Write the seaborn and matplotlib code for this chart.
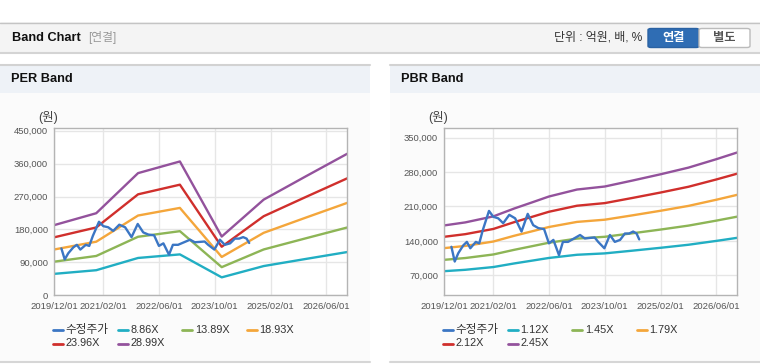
import pandas as pd
import numpy as np
import matplotlib
matplotlib.use("Agg")
import matplotlib.pyplot as plt
from matplotlib.patches import Rectangle, FancyBboxPatch
from matplotlib.lines import Line2D
from matplotlib.ticker import FuncFormatter
import seaborn as sns

# --- data ---
per_knot_dates = ["2019-12-01", "2020-12-01", "2021-12-01", "2022-12-01",
                  "2023-12-01", "2024-12-01", "2025-12-01", "2026-12-01"]
per_eps = [6620, 7740, 11520, 12620, 5540, 9020, 11200, 13350]
per_multiples = [8.86, 13.89, 18.93, 23.96, 28.99]

pbr_knot_dates = ["2019-12-01", "2020-06-01", "2021-02-01", "2021-08-01", "2022-01-01",
                  "2022-06-01", "2023-02-01", "2023-10-01", "2024-06-01", "2025-02-01",
                  "2025-10-01", "2026-06-01", "2026-12-01"]
pbr_bps = [70000, 72500, 77500, 84000, 89000, 94000, 99800, 102300, 107300,
           112500, 118000, 125000, 130600]
pbr_multiples = [1.12, 1.45, 1.79, 2.12, 2.45]

price_dates = ["2020-02-01", "2020-03-01", "2020-04-01", "2020-05-15", "2020-06-15",
               "2020-07-15", "2020-09-01", "2020-10-01", "2020-11-01", "2020-12-25",
               "2021-02-01", "2021-03-15", "2021-04-28", "2021-06-20", "2021-08-10",
               "2021-10-05", "2021-11-28", "2022-01-15", "2022-03-01", "2022-04-20",
               "2022-06-01", "2022-07-10", "2022-08-28", "2022-10-01", "2022-11-15",
               "2022-12-15", "2023-02-28", "2023-04-10", "2023-07-05", "2023-08-05",
               "2023-09-28", "2023-11-15", "2023-12-28", "2024-02-12", "2024-03-25",
               "2024-05-01", "2024-06-05", "2024-07-05", "2024-07-28"]
price_values = [128000, 98000, 115000, 131000, 138000, 125000, 138000, 135000, 162000,
                201000, 189000, 186000, 176000, 193000, 186000, 159000, 195000, 172000,
                166000, 164000, 135000, 142000, 111000, 138000, 138000, 142000, 152000,
                145000, 147000, 138000, 125000, 152000, 138000, 142000, 155000, 155000,
                159000, 155000, 143000]

x_ticks = ["2019-12-01", "2021-02-01", "2022-06-01", "2023-10-01", "2025-02-01", "2026-06-01"]
per_yticks = [0, 90000, 180000, 270000, 360000, 450000]
pbr_yticks = [70000, 140000, 210000, 280000, 350000]

band_colors = ["#21aec3", "#8db556", "#f4a63b", "#d02f2c", "#93529c"]
price_color = "#3b76c4"

sns.set_theme(style="white")
plt.rcParams["font.family"] = ["Liberation Sans", "Noto Sans CJK KR", "DejaVu Sans"]

W, H = 760, 364
fig = plt.figure(figsize=(W / 100, H / 100), dpi=100)
fig.patch.set_facecolor("white")


def fx(x):
    return x / W


def fy(y):
    return 1 - y / H


def rect(x0, y0, x1, y1, **kw):
    fig.add_artist(Rectangle((fx(x0), fy(y1)), fx(x1) - fx(x0), fy(y0) - fy(y1),
                             transform=fig.transFigure, zorder=0.1, **kw))


def hline(x0, x1, y, color, lw=1):
    fig.add_artist(Line2D([fx(x0), fx(x1)], [fy(y), fy(y)], transform=fig.transFigure,
                          color=color, lw=lw, zorder=0.2))


# --- page chrome ---
rect(0, 22, W, 52, fc="#f4f4f4", ec="none")
hline(0, W, 22.5, "#c4c4c4")
hline(0, W, 52.5, "#d4d4d4", lw=1.5)
fig.text(fx(12), fy(38), "Band Chart", fontsize=9.2, fontweight="bold", color="#111",
         va="center")
fig.text(fx(88), fy(38), "[연결]", fontsize=8.5, color="#999", va="center")
fig.text(fx(642), fy(38), "단위 : 억원, 배, %", fontsize=8.6, color="#333", va="center",
         ha="right")
fig.add_artist(FancyBboxPatch((fx(648), fy(47.5)), fx(51), fy(28.5) - fy(47.5),
                              boxstyle="round,pad=0,rounding_size=0.004",
                              transform=fig.transFigure, fc="#2f6db4", ec="#2a62a3"))
fig.add_artist(FancyBboxPatch((fx(699), fy(47.5)), fx(51), fy(28.5) - fy(47.5),
                              boxstyle="round,pad=0,rounding_size=0.004",
                              transform=fig.transFigure, fc="white", ec="#bbbbbb"))
fig.text(fx(673.5), fy(38), "연결", fontsize=8.8, fontweight="bold", color="white",
         ha="center", va="center")
fig.text(fx(724.5), fy(38), "별도", fontsize=8.8, fontweight="bold", color="#555",
         ha="center", va="center")

for px0, px1, title in [(0, 370, "PER Band"), (390, 760, "PBR Band")]:
    rect(px0, 64, px1, 362, fc="#fbfbfb", ec="none")
    rect(px0, 64, px1, 93, fc="#eef2f7", ec="none")
    hline(px0, px1, 64.5, "#d2d2d2", lw=1.5)
    hline(px0, px1, 362, "#d6d6d6", lw=1.5)
    fig.text(fx(px0 + 11), fy(79), title, fontsize=9.2, fontweight="bold", color="#111",
             va="center")


def band_frame(knot_dates, base, multiples):
    rows = []
    for m in multiples:
        for d, b in zip(knot_dates, base):
            rows.append({"date": pd.Timestamp(d), "value": b * m, "series": f"{m:.2f}X"})
    return pd.DataFrame(rows)


price_df = pd.DataFrame({"date": pd.to_datetime(price_dates), "value": price_values})


def draw_panel(ax_left, knot_dates, base, multiples, yticks, ylim, unit_x):
    ax = fig.add_axes([fx(ax_left), fy(295.3), fx(293), fy(128.3) - fy(295.3)])
    ax.set_zorder(5)
    ax.set_facecolor("white")
    bands = band_frame(knot_dates, base, multiples)
    labels = [f"{m:.2f}X" for m in multiples]
    sns.lineplot(data=bands, x="date", y="value", hue="series", hue_order=labels,
                 palette=band_colors, lw=1.7, legend=False, ax=ax)
    sns.lineplot(data=price_df, x="date", y="value", color=price_color, lw=1.7, ax=ax)
    ax.set_xlim(pd.Timestamp("2019-12-01"), pd.Timestamp("2026-12-01"))
    ax.set_ylim(*ylim)
    ax.set_xticks(pd.to_datetime(x_ticks))
    ax.set_xticklabels([t.replace("-", "/") for t in x_ticks])
    ax.set_yticks(yticks)
    ax.yaxis.set_major_formatter(FuncFormatter(lambda v, _: f"{v:,.0f}"))
    ax.set_xlabel("")
    ax.set_ylabel("")
    ax.grid(True, color="#e6e6e6", lw=1)
    for s in ax.spines.values():
        s.set_color("#b4b4b4")
        s.set_linewidth(1)
    ax.tick_params(axis="both", which="major", length=3, width=0.8, color="#b4b4b4",
                   labelsize=6.8, labelcolor="#555", pad=1.5)
    ax.tick_params(axis="x", pad=2)
    fig.text(fx(unit_x), fy(118), "(원)", fontsize=9, color="#444", ha="center",
             va="center")

    # legend
    names = ["수정주가"] + labels
    colors = [price_color] + band_colors
    lx0 = ax_left - 1.3
    for i, (n, c) in enumerate(zip(names, colors)):
        row, col = divmod(i, 4)
        x = lx0 + col * 64.7
        y = 330 + row * 13.5
        fig.add_artist(Line2D([fx(x), fx(x + 10)], [fy(y), fy(y)],
                              transform=fig.transFigure, color=c, lw=2))
        fig.text(fx(x + 12.5), fy(y), n, fontsize=8.4 if i == 0 else 7.8, color="#333",
                 va="center")
    return ax


draw_panel(54.3, per_knot_dates, per_eps, per_multiples, per_yticks, (0, 456500), 48.5)
draw_panel(444.3, pbr_knot_dates, pbr_bps, pbr_multiples, pbr_yticks, (29300, 369100), 438)

fig.savefig("out.png", dpi=100)
